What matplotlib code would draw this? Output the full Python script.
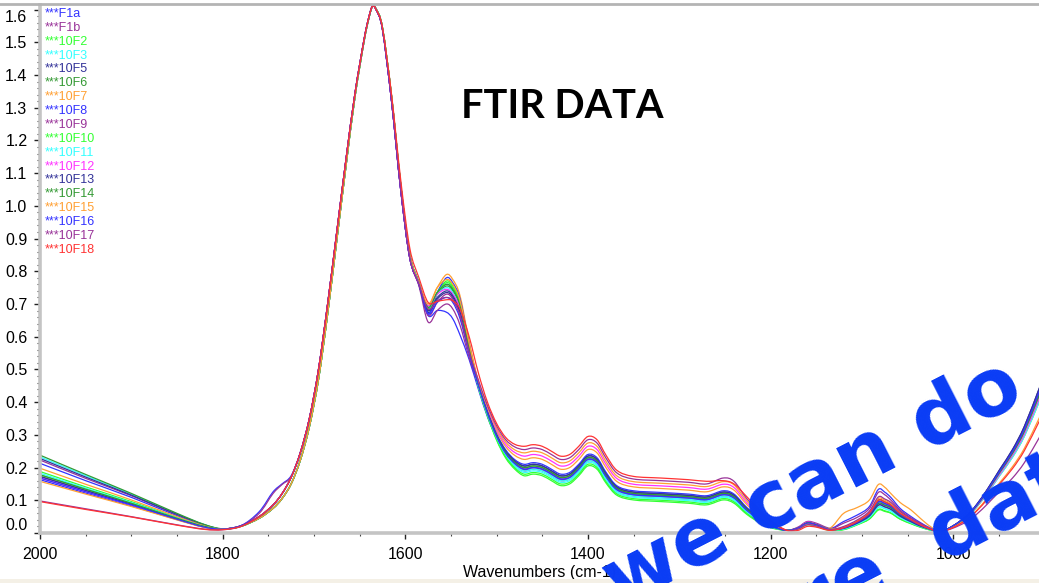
import matplotlib
matplotlib.use("Agg")
import matplotlib.pyplot as plt
from matplotlib.lines import Line2D
from matplotlib.patches import Rectangle, PathPatch
from matplotlib.path import Path
from matplotlib.ticker import MultipleLocator

# Wavenumber grid (cm-1) shared by all spectra
wavenumbers = [2000, 1950, 1900, 1850, 1820, 1800, 1780,
               1760, 1745, 1735, 1725, 1715, 1705, 1695, 1685, 1675, 1665, 1655, 1645, 1640, 1636, 1632, 1625, 1615, 1605, 1595, 1585,
               1575, 1565, 1555, 1548, 1540,
               1530, 1520, 1510, 1500, 1490, 1480, 1470, 1460, 1450, 1440, 1430, 1420, 1410, 1400, 1390, 1380, 1368, 1350, 1320, 1290, 1270, 1252, 1240, 1226, 1210, 1197, 1182,
               1170, 1160, 1150, 1135, 1120, 1105, 1092, 1082, 1075, 1068, 1058, 1046, 1036, 1025, 1014,
               1000, 985, 974, 962, 949, 935, 922, 906, 900]

# Absorbance of each sample on the grid above
F1a = [0.213, 0.160, 0.109, 0.053, 0.023, 0.012, 0.022,
       0.065, 0.125, 0.150, 0.175, 0.245, 0.350, 0.500, 0.700, 0.920, 1.140, 1.345, 1.510, 1.575, 1.610, 1.600, 1.540, 1.320, 1.050, 0.840, 0.760,
       0.665, 0.680, 0.675, 0.655, 0.605,
       0.530, 0.440, 0.355, 0.290, 0.243, 0.212, 0.195, 0.200, 0.195, 0.180, 0.165, 0.170, 0.195, 0.225, 0.215, 0.171, 0.132, 0.117, 0.112, 0.107, 0.102, 0.117, 0.107, 0.069, 0.036, 0.018, 0.008,
       0.015, 0.030, 0.025, 0.012, 0.015, 0.032, 0.054, 0.090, 0.085, 0.077, 0.054, 0.036, 0.023, 0.012, 0.004,
       0.021, 0.050, 0.084, 0.130, 0.185, 0.244, 0.311, 0.420, 0.462]
F1b = [0.223, 0.167, 0.114, 0.056, 0.025, 0.012, 0.022,
       0.060, 0.120, 0.148, 0.172, 0.243, 0.350, 0.500, 0.700, 0.920, 1.140, 1.345, 1.510, 1.575, 1.610, 1.600, 1.540, 1.320, 1.050, 0.840, 0.755,
       0.645, 0.680, 0.700, 0.685, 0.635,
       0.536, 0.451, 0.364, 0.292, 0.240, 0.207, 0.190, 0.195, 0.190, 0.175, 0.160, 0.165, 0.190, 0.220, 0.210, 0.166, 0.127, 0.113, 0.108, 0.103, 0.098, 0.113, 0.103, 0.066, 0.034, 0.017, 0.008,
       0.018, 0.035, 0.030, 0.014, 0.014, 0.030, 0.051, 0.085, 0.080, 0.072, 0.051, 0.034, 0.021, 0.011, 0.004,
       0.022, 0.052, 0.086, 0.133, 0.189, 0.249, 0.318, 0.430, 0.473]
S10F2 = [0.188, 0.141, 0.096, 0.047, 0.021, 0.012, 0.020,
         0.045, 0.075, 0.105, 0.150, 0.222, 0.325, 0.470, 0.670, 0.895, 1.120, 1.335, 1.505, 1.572, 1.610, 1.602, 1.545, 1.335, 1.065, 0.850, 0.765,
         0.680, 0.735, 0.770, 0.755, 0.705,
         0.569, 0.448, 0.358, 0.284, 0.229, 0.195, 0.175, 0.180, 0.175, 0.160, 0.145, 0.150, 0.175, 0.205, 0.195, 0.152, 0.115, 0.101, 0.096, 0.091, 0.086, 0.101, 0.091, 0.057, 0.028, 0.014, 0.008,
         0.012, 0.025, 0.020, 0.008, 0.010, 0.025, 0.042, 0.070, 0.066, 0.060, 0.042, 0.028, 0.018, 0.009, 0.003,
         0.021, 0.049, 0.082, 0.127, 0.180, 0.238, 0.303, 0.410, 0.451]
S10F3 = [0.233, 0.175, 0.119, 0.058, 0.026, 0.012, 0.021,
         0.045, 0.075, 0.105, 0.150, 0.222, 0.325, 0.470, 0.670, 0.895, 1.120, 1.335, 1.505, 1.572, 1.610, 1.602, 1.545, 1.335, 1.065, 0.850, 0.765,
         0.690, 0.735, 0.760, 0.745, 0.695,
         0.566, 0.450, 0.362, 0.289, 0.236, 0.203, 0.185, 0.190, 0.185, 0.170, 0.155, 0.160, 0.185, 0.215, 0.205, 0.161, 0.123, 0.109, 0.104, 0.099, 0.094, 0.109, 0.099, 0.063, 0.032, 0.016, 0.008,
         0.015, 0.028, 0.022, 0.010, 0.012, 0.028, 0.048, 0.080, 0.075, 0.068, 0.048, 0.032, 0.020, 0.010, 0.003,
         0.020, 0.048, 0.080, 0.124, 0.176, 0.232, 0.296, 0.400, 0.440]
S10F5 = [0.228, 0.171, 0.116, 0.057, 0.025, 0.012, 0.022,
         0.050, 0.085, 0.120, 0.170, 0.245, 0.350, 0.500, 0.700, 0.920, 1.140, 1.345, 1.510, 1.575, 1.610, 1.600, 1.540, 1.320, 1.050, 0.840, 0.760,
         0.675, 0.715, 0.735, 0.720, 0.670,
         0.555, 0.455, 0.370, 0.300, 0.250, 0.220, 0.205, 0.210, 0.205, 0.190, 0.175, 0.180, 0.205, 0.235, 0.225, 0.180, 0.140, 0.125, 0.120, 0.115, 0.110, 0.125, 0.115, 0.075, 0.040, 0.020, 0.008,
         0.016, 0.032, 0.026, 0.012, 0.015, 0.033, 0.057, 0.095, 0.090, 0.081, 0.057, 0.038, 0.024, 0.012, 0.004,
         0.022, 0.053, 0.088, 0.136, 0.194, 0.255, 0.326, 0.440, 0.484]
S10F6 = [0.238, 0.179, 0.121, 0.060, 0.026, 0.013, 0.021,
         0.045, 0.075, 0.105, 0.150, 0.222, 0.325, 0.470, 0.670, 0.895, 1.120, 1.335, 1.505, 1.572, 1.610, 1.602, 1.545, 1.335, 1.065, 0.850, 0.765,
         0.685, 0.730, 0.755, 0.740, 0.690,
         0.565, 0.454, 0.368, 0.297, 0.247, 0.216, 0.200, 0.205, 0.200, 0.185, 0.170, 0.175, 0.200, 0.230, 0.220, 0.175, 0.136, 0.121, 0.116, 0.111, 0.106, 0.121, 0.111, 0.072, 0.038, 0.019, 0.008,
         0.014, 0.029, 0.024, 0.011, 0.014, 0.032, 0.054, 0.090, 0.085, 0.077, 0.054, 0.036, 0.023, 0.011, 0.004,
         0.021, 0.049, 0.082, 0.127, 0.180, 0.238, 0.303, 0.410, 0.451]
S10F7 = [0.198, 0.149, 0.101, 0.050, 0.022, 0.012, 0.021,
         0.045, 0.075, 0.105, 0.150, 0.222, 0.325, 0.470, 0.670, 0.895, 1.120, 1.335, 1.505, 1.572, 1.610, 1.602, 1.545, 1.335, 1.065, 0.850, 0.765,
         0.695, 0.750, 0.790, 0.775, 0.725,
         0.585, 0.460, 0.378, 0.311, 0.264, 0.237, 0.225, 0.230, 0.225, 0.210, 0.195, 0.200, 0.225, 0.255, 0.245, 0.199, 0.157, 0.141, 0.136, 0.131, 0.126, 0.141, 0.131, 0.087, 0.048, 0.024, 0.008,
         0.016, 0.030, 0.025, 0.015, 0.060, 0.078, 0.100, 0.148, 0.140, 0.120, 0.093, 0.070, 0.045, 0.020, 0.005,
         0.020, 0.048, 0.080, 0.124, 0.176, 0.232, 0.296, 0.400, 0.440]
S10F8 = [0.163, 0.122, 0.083, 0.041, 0.018, 0.012, 0.021,
         0.045, 0.075, 0.105, 0.150, 0.222, 0.325, 0.470, 0.670, 0.895, 1.120, 1.335, 1.505, 1.572, 1.610, 1.602, 1.545, 1.335, 1.065, 0.850, 0.765,
         0.670, 0.735, 0.780, 0.765, 0.715,
         0.578, 0.456, 0.372, 0.303, 0.254, 0.224, 0.210, 0.215, 0.210, 0.195, 0.180, 0.185, 0.210, 0.240, 0.230, 0.185, 0.144, 0.129, 0.124, 0.119, 0.114, 0.129, 0.119, 0.078, 0.042, 0.021, 0.008,
         0.015, 0.030, 0.025, 0.013, 0.035, 0.055, 0.080, 0.133, 0.125, 0.108, 0.075, 0.050, 0.032, 0.015, 0.004,
         0.021, 0.050, 0.084, 0.130, 0.185, 0.244, 0.311, 0.420, 0.462]
S10F9 = [0.173, 0.130, 0.088, 0.043, 0.019, 0.012, 0.022,
         0.050, 0.085, 0.120, 0.170, 0.245, 0.350, 0.500, 0.700, 0.920, 1.140, 1.345, 1.510, 1.575, 1.610, 1.600, 1.540, 1.320, 1.050, 0.840, 0.760,
         0.665, 0.705, 0.730, 0.715, 0.665,
         0.552, 0.453, 0.366, 0.295, 0.243, 0.212, 0.195, 0.200, 0.195, 0.180, 0.165, 0.170, 0.195, 0.225, 0.215, 0.171, 0.132, 0.117, 0.112, 0.107, 0.102, 0.117, 0.107, 0.069, 0.036, 0.018, 0.008,
         0.016, 0.032, 0.026, 0.012, 0.030, 0.048, 0.074, 0.124, 0.117, 0.100, 0.070, 0.046, 0.030, 0.014, 0.004,
         0.022, 0.052, 0.086, 0.133, 0.189, 0.249, 0.318, 0.430, 0.473]
S10F10 = [0.178, 0.134, 0.091, 0.045, 0.020, 0.012, 0.020,
          0.045, 0.075, 0.105, 0.150, 0.222, 0.325, 0.470, 0.670, 0.895, 1.120, 1.335, 1.505, 1.572, 1.610, 1.602, 1.545, 1.335, 1.065, 0.850, 0.765,
          0.685, 0.735, 0.765, 0.750, 0.700,
          0.568, 0.449, 0.360, 0.286, 0.233, 0.199, 0.180, 0.185, 0.180, 0.165, 0.150, 0.155, 0.180, 0.210, 0.200, 0.156, 0.119, 0.105, 0.100, 0.095, 0.090, 0.105, 0.095, 0.060, 0.030, 0.015, 0.008,
          0.013, 0.026, 0.021, 0.009, 0.011, 0.026, 0.043, 0.072, 0.068, 0.061, 0.043, 0.029, 0.018, 0.009, 0.003,
          0.021, 0.049, 0.082, 0.127, 0.180, 0.238, 0.303, 0.410, 0.451]
S10F11 = [0.183, 0.137, 0.093, 0.046, 0.020, 0.012, 0.021,
          0.045, 0.075, 0.105, 0.150, 0.222, 0.325, 0.470, 0.670, 0.895, 1.120, 1.335, 1.505, 1.572, 1.610, 1.602, 1.545, 1.335, 1.065, 0.850, 0.765,
          0.690, 0.730, 0.750, 0.735, 0.685,
          0.561, 0.451, 0.364, 0.292, 0.240, 0.207, 0.190, 0.195, 0.190, 0.175, 0.160, 0.165, 0.190, 0.220, 0.210, 0.166, 0.127, 0.113, 0.108, 0.103, 0.098, 0.113, 0.103, 0.066, 0.034, 0.017, 0.008,
          0.014, 0.027, 0.022, 0.010, 0.012, 0.027, 0.047, 0.078, 0.074, 0.066, 0.047, 0.031, 0.020, 0.010, 0.003,
          0.020, 0.048, 0.080, 0.124, 0.176, 0.232, 0.296, 0.400, 0.440]
S10F12 = [0.168, 0.126, 0.086, 0.042, 0.018, 0.012, 0.022,
          0.050, 0.085, 0.120, 0.170, 0.245, 0.350, 0.500, 0.700, 0.920, 1.140, 1.345, 1.510, 1.575, 1.610, 1.600, 1.540, 1.320, 1.050, 0.840, 0.760,
          0.695, 0.730, 0.745, 0.730, 0.685,
          0.563, 0.463, 0.382, 0.317, 0.271, 0.246, 0.235, 0.240, 0.235, 0.220, 0.205, 0.210, 0.235, 0.265, 0.255, 0.209, 0.166, 0.149, 0.144, 0.139, 0.134, 0.149, 0.139, 0.093, 0.052, 0.026, 0.008,
          0.016, 0.033, 0.027, 0.012, 0.016, 0.035, 0.060, 0.100, 0.095, 0.085, 0.060, 0.040, 0.025, 0.012, 0.004,
          0.021, 0.049, 0.082, 0.127, 0.180, 0.238, 0.303, 0.410, 0.451]
S10F13 = [0.173, 0.130, 0.088, 0.043, 0.019, 0.012, 0.022,
          0.050, 0.085, 0.120, 0.170, 0.245, 0.350, 0.500, 0.700, 0.920, 1.140, 1.345, 1.510, 1.575, 1.610, 1.600, 1.540, 1.320, 1.050, 0.840, 0.760,
          0.680, 0.720, 0.740, 0.725, 0.675,
          0.558, 0.455, 0.370, 0.300, 0.250, 0.220, 0.205, 0.210, 0.205, 0.190, 0.175, 0.180, 0.205, 0.235, 0.225, 0.180, 0.140, 0.125, 0.120, 0.115, 0.110, 0.125, 0.115, 0.075, 0.040, 0.020, 0.008,
          0.015, 0.030, 0.025, 0.011, 0.014, 0.030, 0.051, 0.085, 0.080, 0.072, 0.051, 0.034, 0.021, 0.011, 0.004,
          0.022, 0.053, 0.088, 0.136, 0.194, 0.255, 0.326, 0.440, 0.484]
S10F14 = [0.178, 0.134, 0.091, 0.045, 0.020, 0.012, 0.021,
          0.045, 0.075, 0.105, 0.150, 0.222, 0.325, 0.470, 0.670, 0.895, 1.120, 1.335, 1.505, 1.572, 1.610, 1.602, 1.545, 1.335, 1.065, 0.850, 0.765,
          0.690, 0.735, 0.760, 0.745, 0.695,
          0.567, 0.454, 0.368, 0.297, 0.247, 0.216, 0.200, 0.205, 0.200, 0.185, 0.170, 0.175, 0.200, 0.230, 0.220, 0.175, 0.136, 0.121, 0.116, 0.111, 0.106, 0.121, 0.111, 0.072, 0.038, 0.019, 0.008,
          0.015, 0.031, 0.026, 0.012, 0.016, 0.035, 0.060, 0.100, 0.095, 0.085, 0.060, 0.040, 0.025, 0.012, 0.004,
          0.021, 0.050, 0.084, 0.130, 0.185, 0.244, 0.311, 0.420, 0.462]
S10F15 = [0.158, 0.119, 0.081, 0.040, 0.017, 0.012, 0.021,
          0.045, 0.075, 0.105, 0.150, 0.222, 0.325, 0.470, 0.670, 0.895, 1.120, 1.335, 1.505, 1.572, 1.610, 1.602, 1.545, 1.335, 1.065, 0.850, 0.765,
          0.700, 0.750, 0.775, 0.760, 0.710,
          0.579, 0.465, 0.386, 0.322, 0.278, 0.254, 0.245, 0.250, 0.245, 0.230, 0.215, 0.220, 0.245, 0.275, 0.265, 0.218, 0.174, 0.157, 0.152, 0.147, 0.142, 0.157, 0.147, 0.099, 0.056, 0.028, 0.008,
          0.014, 0.028, 0.024, 0.012, 0.018, 0.037, 0.063, 0.105, 0.100, 0.089, 0.063, 0.042, 0.026, 0.013, 0.004,
          0.018, 0.042, 0.070, 0.109, 0.154, 0.203, 0.259, 0.350, 0.385]
S10F16 = [0.168, 0.126, 0.086, 0.042, 0.018, 0.012, 0.022,
          0.050, 0.085, 0.120, 0.170, 0.245, 0.350, 0.500, 0.700, 0.920, 1.140, 1.345, 1.510, 1.575, 1.610, 1.600, 1.540, 1.320, 1.050, 0.840, 0.760,
          0.670, 0.705, 0.720, 0.705, 0.655,
          0.547, 0.453, 0.366, 0.295, 0.243, 0.212, 0.195, 0.200, 0.195, 0.180, 0.165, 0.170, 0.195, 0.225, 0.215, 0.171, 0.132, 0.117, 0.112, 0.107, 0.102, 0.117, 0.107, 0.069, 0.036, 0.018, 0.008,
          0.015, 0.030, 0.025, 0.011, 0.015, 0.033, 0.057, 0.095, 0.090, 0.081, 0.057, 0.038, 0.024, 0.012, 0.004,
          0.022, 0.052, 0.086, 0.133, 0.189, 0.249, 0.318, 0.430, 0.473]
S10F17 = [0.098, 0.074, 0.050, 0.025, 0.012, 0.010, 0.020,
          0.050, 0.085, 0.120, 0.170, 0.245, 0.350, 0.500, 0.700, 0.920, 1.140, 1.345, 1.510, 1.575, 1.610, 1.600, 1.540, 1.320, 1.050, 0.840, 0.760,
          0.685, 0.710, 0.720, 0.710, 0.665,
          0.553, 0.468, 0.390, 0.328, 0.285, 0.263, 0.255, 0.260, 0.255, 0.240, 0.225, 0.230, 0.255, 0.285, 0.275, 0.228, 0.183, 0.165, 0.160, 0.155, 0.150, 0.168, 0.158, 0.105, 0.060, 0.030, 0.008,
          0.012, 0.025, 0.022, 0.010, 0.020, 0.040, 0.066, 0.110, 0.104, 0.093, 0.066, 0.044, 0.028, 0.013, 0.004,
          0.015, 0.035, 0.058, 0.090, 0.128, 0.168, 0.215, 0.290, 0.319]
S10F18 = [0.096, 0.072, 0.049, 0.024, 0.011, 0.010, 0.020,
          0.050, 0.085, 0.120, 0.170, 0.245, 0.350, 0.500, 0.700, 0.920, 1.140, 1.345, 1.510, 1.575, 1.610, 1.600, 1.545, 1.340, 1.080, 0.870, 0.780,
          0.705, 0.708, 0.713, 0.710, 0.685,
          0.600, 0.490, 0.400, 0.335, 0.292, 0.271, 0.265, 0.270, 0.265, 0.250, 0.235, 0.240, 0.265, 0.295, 0.285, 0.237, 0.191, 0.173, 0.168, 0.163, 0.158, 0.160, 0.150, 0.111, 0.064, 0.032, 0.008,
          0.008, 0.020, 0.018, 0.008, 0.016, 0.035, 0.060, 0.100, 0.095, 0.085, 0.060, 0.040, 0.025, 0.012, 0.004,
          0.017, 0.041, 0.068, 0.105, 0.150, 0.197, 0.252, 0.340, 0.374]

sample_names = ["F1a", "F1b", "10F2", "10F3", "10F5", "10F6", "10F7", "10F8", "10F9",
                "10F10", "10F11", "10F12", "10F13", "10F14", "10F15", "10F16", "10F17", "10F18"]
sample_spectra = [F1a, F1b, S10F2, S10F3, S10F5, S10F6, S10F7, S10F8, S10F9,
                  S10F10, S10F11, S10F12, S10F13, S10F14, S10F15, S10F16, S10F17, S10F18]
sample_colors = ["#3333ff", "#993399", "#33ff33", "#33ffff", "#333399", "#339933", "#ffa033", "#3333ff", "#993399",
                 "#33ff33", "#33ffff", "#ff33ff", "#333399", "#339933", "#ffa033", "#3333ff", "#993399", "#ff3333"]

x_ticks = [2000, 1800, 1600, 1400, 1200, 1000]
y_ticks = [0.0, 0.1, 0.2, 0.3, 0.4, 0.5, 0.6, 0.7, 0.8, 0.9, 1.0, 1.1, 1.2, 1.3, 1.4, 1.5, 1.6]

W, H = 1039, 583
fig = plt.figure(figsize=(W / 100, H / 100), dpi=100)
fig.patch.set_facecolor("white")


def fx(px):
    return px / W


def fy(py):
    return 1 - py / H


def spectrum_path(xs, ys):
    """Smooth trace through the sampled points (Catmull-Rom drawn as cubic Beziers)."""
    pts = list(zip(xs, ys))
    n = len(pts)
    verts = [pts[0]]
    codes = [Path.MOVETO]
    for i in range(n - 1):
        p0 = pts[i - 1] if i > 0 else pts[i]
        p1 = pts[i]
        p2 = pts[i + 1]
        p3 = pts[i + 2] if i + 2 < n else pts[i + 1]
        c1 = (p1[0] + (p2[0] - p0[0]) / 6.0, p1[1] + (p2[1] - p0[1]) / 6.0)
        c2 = (p2[0] - (p3[0] - p1[0]) / 6.0, p2[1] - (p3[1] - p1[1]) / 6.0)
        verts += [c1, c2, p2]
        codes += [Path.CURVE4] * 3
    return Path(verts, codes)


ax = fig.add_axes([fx(40), fy(533), fx(1039) - fx(40), fy(5) - fy(533)])
for spec, col in zip(sample_spectra, sample_colors):
    ax.add_patch(PathPatch(spectrum_path(wavenumbers, spec), fill=False,
                           edgecolor=col, lw=0.9, joinstyle="round"))

ax.set_xlim(2000, 906)
ax.set_ylim(0.0, 1.614)

ax.set_xticks(x_ticks)
ax.set_xticklabels([str(t) for t in x_ticks])
ax.xaxis.set_minor_locator(MultipleLocator(50))
ax.set_yticks(y_ticks)
ax.set_yticklabels([f"{t:.1f}" for t in y_ticks])
ax.yaxis.set_minor_locator(MultipleLocator(0.02))

ax.tick_params(axis="both", which="major", direction="out", length=4, width=1.0,
               color="#222222", labelsize=11.5, labelcolor="black")
ax.tick_params(axis="x", which="major", pad=6)
ax.tick_params(axis="y", which="major", pad=5)
ax.tick_params(axis="both", which="minor", direction="out", length=2.5, width=0.8, color="#444444")
for lab in ax.get_xticklabels() + ax.get_yticklabels():
    lab.set_family("Liberation Sans")
ylabs = ax.get_yticklabels()
ylabs[0].set_va("bottom")
ylabs[-1].set_va("top")

for side in ("top", "right"):
    ax.spines[side].set_visible(False)
for side in ("left", "bottom"):
    ax.spines[side].set_color("#c4c4c4")
    ax.spines[side].set_linewidth(2.6)

ax.set_xlabel("Wavenumbers (cm-1)", fontsize=11.5, family="Liberation Sans", labelpad=2)

# window frame lines
fig.add_artist(Line2D([0, 1], [fy(4), fy(4)], color="#b4b4b4", lw=2.0))
fig.add_artist(Rectangle((0, 0), 1, fy(579), color="#f4f0e6", lw=0))

# sample list in the upper left corner
for i, (name, col) in enumerate(zip(sample_names, sample_colors)):
    fig.text(fx(45), fy(14 + i * 13.87), "***" + name, color=col, fontsize=9,
             family="Liberation Sans", va="center", ha="left")

fig.text(fx(562), fy(107), "FTIR DATA", fontsize=28.5, fontweight="bold", family="Lato",
         ha="center", va="center", color="black")

blue = "#0a3cf5"
fig.text(fx(1027), fy(400), "we can do", rotation=27, rotation_mode="anchor",
         ha="right", va="baseline", fontsize=58, fontweight="bold", color=blue,
         family="DejaVu Sans", zorder=20)
fig.text(fx(1126), fy(469), "more  data", rotation=27, rotation_mode="anchor",
         ha="right", va="baseline", fontsize=58, fontweight="bold", color=blue,
         family="DejaVu Sans", zorder=20)

fig.savefig("out.png", dpi=100, facecolor="white")
